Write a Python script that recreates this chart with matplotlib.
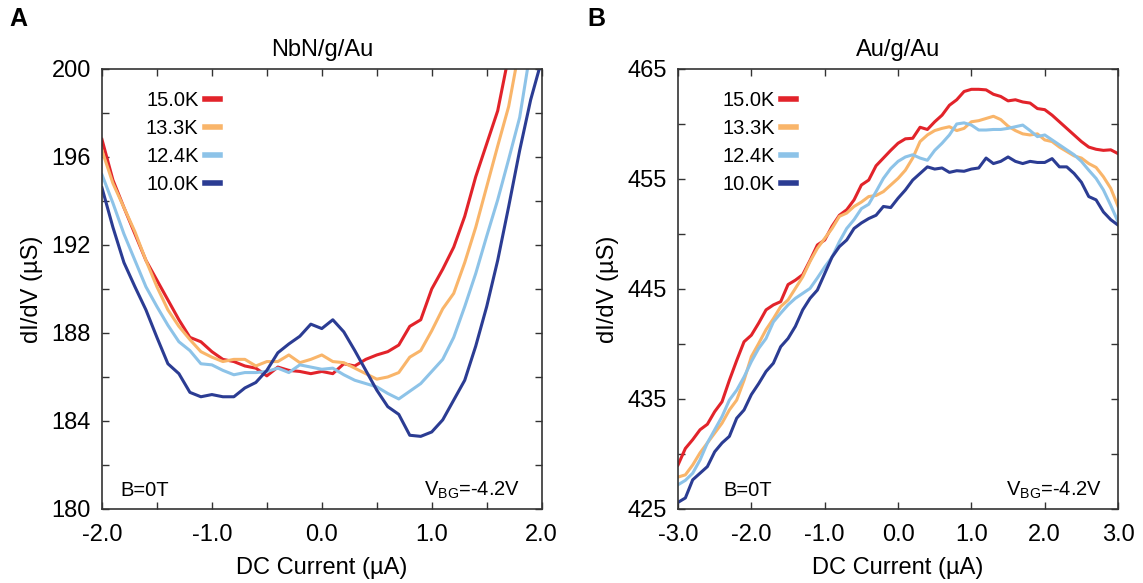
import matplotlib
matplotlib.use("Agg")
import matplotlib.pyplot as plt
import numpy as np
from matplotlib.ticker import FixedLocator, FormatStrFormatter

plt.rcParams['font.family'] = ['Liberation Sans', 'DejaVu Sans']
plt.rcParams['mathtext.fontset'] = 'custom'
plt.rcParams['mathtext.rm'] = 'Liberation Sans'
plt.rcParams['mathtext.sf'] = 'Liberation Sans'
plt.rcParams['axes.unicode_minus'] = False

labels = ['15.0K', '13.3K', '12.4K', '10.0K']
colors = ['#E2232A', '#F9B56A', '#8DC3E8', '#2B3C93']

# ---- Panel A: NbN/g/Au ----
xA = [-2.0, -1.9, -1.8, -1.7, -1.6, -1.5, -1.4, -1.3, -1.2, -1.1, -1.0, -0.9, -0.8, -0.7, -0.6,
      -0.5, -0.4, -0.3, -0.2, -0.1, 0.0, 0.1, 0.2, 0.3, 0.4, 0.5, 0.6, 0.7, 0.8, 0.9, 1.0,
      1.1, 1.2, 1.3, 1.4, 1.5, 1.6, 1.7, 1.8, 1.9, 2.0]
A_15K = [196.8, 194.95, 193.7, 192.5, 191.3, 190.4, 189.5, 188.6, 187.8, 187.6, 187.15, 186.8, 186.7,
         186.5, 186.4, 186.05, 186.45, 186.3, 186.25, 186.15, 186.25, 186.15, 186.6, 186.5, 186.8,
         187.0, 187.15, 187.45, 188.3, 188.6, 190.0, 190.9, 191.9, 193.3, 195.1, 196.6, 198.1,
         200.6, 203.0, 205.0, 207.0]
A_133K = [196.3, 194.8, 193.7, 192.6, 191.3, 190.1, 189.05, 188.3, 187.7, 187.15, 186.9, 186.7, 186.8,
          186.8, 186.5, 186.7, 186.7, 187.0, 186.65, 186.8, 187.0, 186.7, 186.65, 186.4, 186.15,
          185.9, 186.0, 186.2, 186.9, 187.2, 188.1, 189.1, 189.8, 191.2, 192.8, 194.65, 196.5,
          198.3, 201.0, 203.5, 206.0]
A_124K = [195.2, 193.9, 192.5, 191.3, 190.1, 189.2, 188.35, 187.6, 187.2, 186.6, 186.55, 186.3, 186.1,
          186.2, 186.2, 186.25, 186.4, 186.2, 186.55, 186.45, 186.35, 186.4, 186.1, 185.85, 185.7,
          185.55, 185.25, 185.0, 185.35, 185.7, 186.25, 186.8, 187.8, 189.2, 190.7, 192.4, 194.05,
          195.9, 197.8, 200.9, 203.5]
A_10K = [194.6, 192.8, 191.2, 190.1, 189.05, 187.8, 186.6, 186.15, 185.3, 185.1, 185.2, 185.1, 185.1,
         185.5, 185.75, 186.3, 187.1, 187.5, 187.85, 188.4, 188.2, 188.6, 188.05, 187.2, 186.3,
         185.4, 184.65, 184.3, 183.35, 183.3, 183.5, 184.05, 184.95, 185.85, 187.4, 189.2, 191.3,
         193.75, 196.3, 198.6, 200.4]

# ---- Panel B: Au/g/Au ----
xB = [-3.0, -2.9, -2.8, -2.7, -2.6, -2.5, -2.4, -2.3, -2.2, -2.1, -2.0, -1.9, -1.8, -1.7, -1.6,
      -1.5, -1.4, -1.3, -1.2, -1.1, -1.0, -0.9, -0.8, -0.7, -0.6, -0.5, -0.4, -0.3, -0.2, -0.1,
      0.0, 0.1, 0.2, 0.3, 0.4, 0.5, 0.6, 0.7, 0.8, 0.9, 1.0, 1.1, 1.2, 1.3, 1.4, 1.5, 1.6, 1.7,
      1.8, 1.9, 2.0, 2.1, 2.2, 2.3, 2.4, 2.5, 2.6, 2.7, 2.8, 2.9, 3.0]
B_15K = [429.0, 430.5, 431.3, 432.2, 432.7, 433.85, 434.75, 436.7, 438.5, 440.2, 440.8, 441.9, 443.1,
         443.55, 443.85, 445.4, 445.8, 446.3, 447.6, 449.0, 449.45, 450.7, 451.7, 452.2, 453.1,
         454.45, 454.9, 456.2, 456.9, 457.6, 458.25, 458.65, 458.7, 459.7, 459.5, 460.2, 460.8,
         461.7, 462.2, 462.95, 463.15, 463.15, 463.1, 462.7, 462.5, 462.1, 462.2, 462.0, 461.9,
         461.4, 461.3, 460.8, 460.2, 459.6, 459.0, 458.4, 457.9, 457.7, 457.6, 457.65, 457.3]
B_133K = [427.9, 428.1, 429.0, 430.1, 431.0, 431.9, 432.8, 434.0, 434.9, 436.7, 438.85, 440.05, 441.3,
          442.3, 443.4, 444.0, 445.05, 446.1, 447.5, 448.7, 449.6, 450.5, 451.6, 451.9, 452.5,
          452.9, 453.4, 453.5, 453.85, 454.45, 455.05, 455.8, 456.9, 458.4, 459.0, 459.4, 459.6,
          459.75, 459.4, 459.6, 460.2, 460.3, 460.5, 460.7, 460.4, 459.8, 459.4, 459.1, 459.0,
          459.1, 458.55, 458.4, 457.9, 457.5, 457.1, 456.9, 456.4, 456.05, 455.2, 454.15, 452.5]
B_124K = [427.2, 427.6, 428.25, 429.45, 431.0, 432.2, 433.4, 434.9, 435.8, 437.0, 438.4, 439.6, 440.5,
          442.0, 442.8, 443.55, 444.15, 444.6, 445.05, 446.0, 447.0, 447.9, 449.3, 450.5, 451.3,
          452.3, 452.7, 453.85, 455.05, 455.95, 456.6, 457.0, 457.2, 456.9, 456.7, 457.6, 458.25,
          459.0, 460.0, 460.1, 459.9, 459.45, 459.45, 459.5, 459.5, 459.6, 459.75, 459.9, 459.4,
          458.85, 459.0, 458.55, 458.1, 457.65, 457.2, 456.6, 455.8, 455.05, 454.0, 452.6, 451.1]
B_10K = [425.6, 426.0, 427.65, 428.25, 428.85, 430.2, 431.0, 431.6, 433.25, 434.0, 435.4, 436.4, 437.5,
         438.25, 439.75, 440.5, 441.6, 443.1, 444.15, 444.9, 446.4, 447.9, 448.85, 449.45, 450.5,
         451.0, 451.4, 451.7, 452.5, 452.4, 453.25, 454.0, 454.9, 455.5, 456.1, 455.9, 456.0,
         455.6, 455.75, 455.7, 455.9, 456.0, 456.9, 456.4, 456.6, 457.0, 456.6, 456.4, 456.6,
         456.5, 456.5, 456.85, 456.1, 456.1, 455.5, 454.7, 453.4, 453.1, 452.0, 451.3, 450.8]

# tick positions
A_xmajor = [-2.0, -1.0, 0.0, 1.0, 2.0]
A_xminor = [-1.5, -0.5, 0.5, 1.5]
A_ymajor = [180, 184, 188, 192, 196, 200]
A_yminor = [182, 186, 190, 194, 198]
B_xmajor = [-3.0, -2.0, -1.0, 0.0, 1.0, 2.0, 3.0]
B_xminor = []
B_ymajor = [425, 435, 445, 455, 465]
B_yminor = [430, 440, 450, 460]

FS = 17
fig = plt.figure(figsize=(11.43, 5.83), dpi=100)
axA = fig.add_axes([0.0892, 0.127, 0.3847, 0.7547])
axB = fig.add_axes([0.5932, 0.127, 0.3850, 0.7547])

panels = [
    (axA, xA, [A_15K, A_133K, A_124K, A_10K], 'NbN/g/Au', (-2, 2), (180, 200),
     A_xmajor, A_xminor, A_ymajor, A_yminor, 0.041, 0.951),
    (axB, xB, [B_15K, B_133K, B_124K, B_10K], 'Au/g/Au', (-3, 3), (425, 465),
     B_xmajor, B_xminor, B_ymajor, B_yminor, 0.102, 0.965),
]

for ax, x, ys, title, xl, yl, xmaj, xmin, ymaj, ymin, bx, vx in panels:
    for y, c, lab in zip(ys, colors, labels):
        ax.plot(x, y, color=c, lw=2.2, label=lab)
    ax.set_xlim(*xl)
    ax.set_ylim(*yl)
    ax.xaxis.set_major_locator(FixedLocator(xmaj))
    ax.xaxis.set_minor_locator(FixedLocator(xmin))
    ax.yaxis.set_major_locator(FixedLocator(ymaj))
    ax.yaxis.set_minor_locator(FixedLocator(ymin))
    ax.xaxis.set_major_formatter(FormatStrFormatter('%.1f'))
    ax.yaxis.set_major_formatter(FormatStrFormatter('%d'))
    ax.tick_params(which='both', direction='in', top=True, right=True, length=5,
                   width=1.0, color='#333333', labelsize=FS)
    ax.tick_params(axis='x', pad=11)
    ax.tick_params(axis='y', pad=8)
    for s in ax.spines.values():
        s.set_color('#333333')
        s.set_linewidth(1.2)
    ax.set_title(title, fontsize=FS, pad=9)
    ax.set_xlabel('DC Current (\u00b5A)', fontsize=FS, labelpad=8)
    ax.set_ylabel('dI/dV (\u00b5S)', fontsize=FS, labelpad=6)
    ax.text(bx, 0.043, 'B=0T', transform=ax.transAxes, fontsize=14.5, ha='left', va='center')
    ax.text(vx, 0.043, r'V$_{\mathrm{BG}}$=-4.2V', transform=ax.transAxes, fontsize=14.5,
            ha='right', va='center')
    leg = ax.legend(loc='upper left', bbox_to_anchor=(0.1, 0.95), frameon=False,
                    markerfirst=False, handlelength=0.75, handletextpad=0.3,
                    labelspacing=0.45, fontsize=14.5, borderpad=0, borderaxespad=0)
    for ln in leg.get_lines():
        ln.set_linewidth(4)

fig.text(0.008, 0.988, 'A', fontsize=18, fontweight='bold', ha='left', va='top')
fig.text(0.514, 0.988, 'B', fontsize=18, fontweight='bold', ha='left', va='top')

fig.savefig('out.png', dpi=100)
